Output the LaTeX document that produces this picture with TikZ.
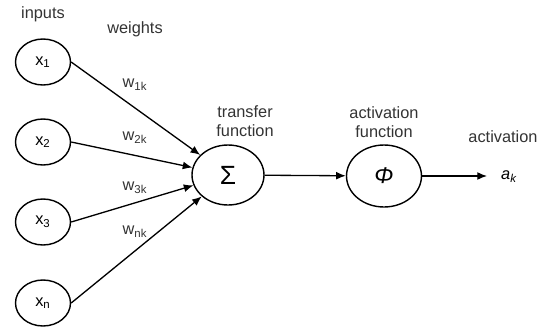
\documentclass[tikz,border=0pt]{standalone}
\usepackage{fontspec}
\setmainfont{Liberation Sans}
\usetikzlibrary{arrows.meta}
\tikzset{
  unit/.style={draw, line width=0.8pt, ellipse, minimum width=1.1cm, minimum height=0.92cm, inner sep=0pt},
  sumunit/.style={unit, minimum width=1.44cm, minimum height=1.2cm},
  wire/.style={line width=0.75pt, -{Latex[length=5.5pt,width=4.5pt]}},
  lbl/.style={font=\fontsize{9.3}{10.5}\selectfont, text=black!80, align=center}
}
\usetikzlibrary{shapes.geometric}
\begin{document}
\begin{tikzpicture}[x=0.02cm, y=-0.02cm, font=\fontsize{9.3}{10.5}\selectfont]
  \useasboundingbox (0,0) rectangle (539,329);
  % inputs
  \node[unit] (x1) at (43,62)  {x\textsubscript{1}};
  \node[unit] (x2) at (43,142) {x\textsubscript{2}};
  \node[unit] (x3) at (43,222) {x\textsubscript{3}};
  \node[unit] (xn) at (43,303) {x\textsubscript{n}};
  % units
  \node[sumunit] (sum) at (228,175) {\fontsize{15}{15}\selectfont Σ};
  \node[sumunit, minimum width=1.5cm, minimum height=1.24cm] (phi) at (384,176) {\fontsize{13}{13}\selectfont\textit{Φ}};
  \coordinate (out) at (487,176);
  \node[anchor=west] (ak) at (495,177) {\textit{a}\textsubscript{\textit{k}}};
  % connectors
  \draw[wire] (x1.east) -- (sum);
  \draw[wire] (x2.east) -- (sum);
  \draw[wire] (x3.east) -- (sum);
  \draw[wire] (xn.east) -- (sum);
  \draw[wire] (sum) -- (phi);
  \draw[wire] (phi) -- (out);
  % labels
  \node[lbl] (inputs) at (43,14) {inputs};
  \node[lbl] (weights) at (135,29) {weights};
  \node[lbl] (w1) at (135,85)  {w\textsubscript{1k}};
  \node[lbl] (w2) at (135,138) {w\textsubscript{2k}};
  \node[lbl] (w3) at (135,188) {w\textsubscript{3k}};
  \node[lbl] (wn) at (135,232) {w\textsubscript{nk}};
  \node[lbl] (transfer) at (245,121) {transfer\\function};
  \node[lbl] (activfun) at (384,122) {activation\\function};
  \node[lbl] (activ) at (503,137) {activation};
\end{tikzpicture}
\end{document}
